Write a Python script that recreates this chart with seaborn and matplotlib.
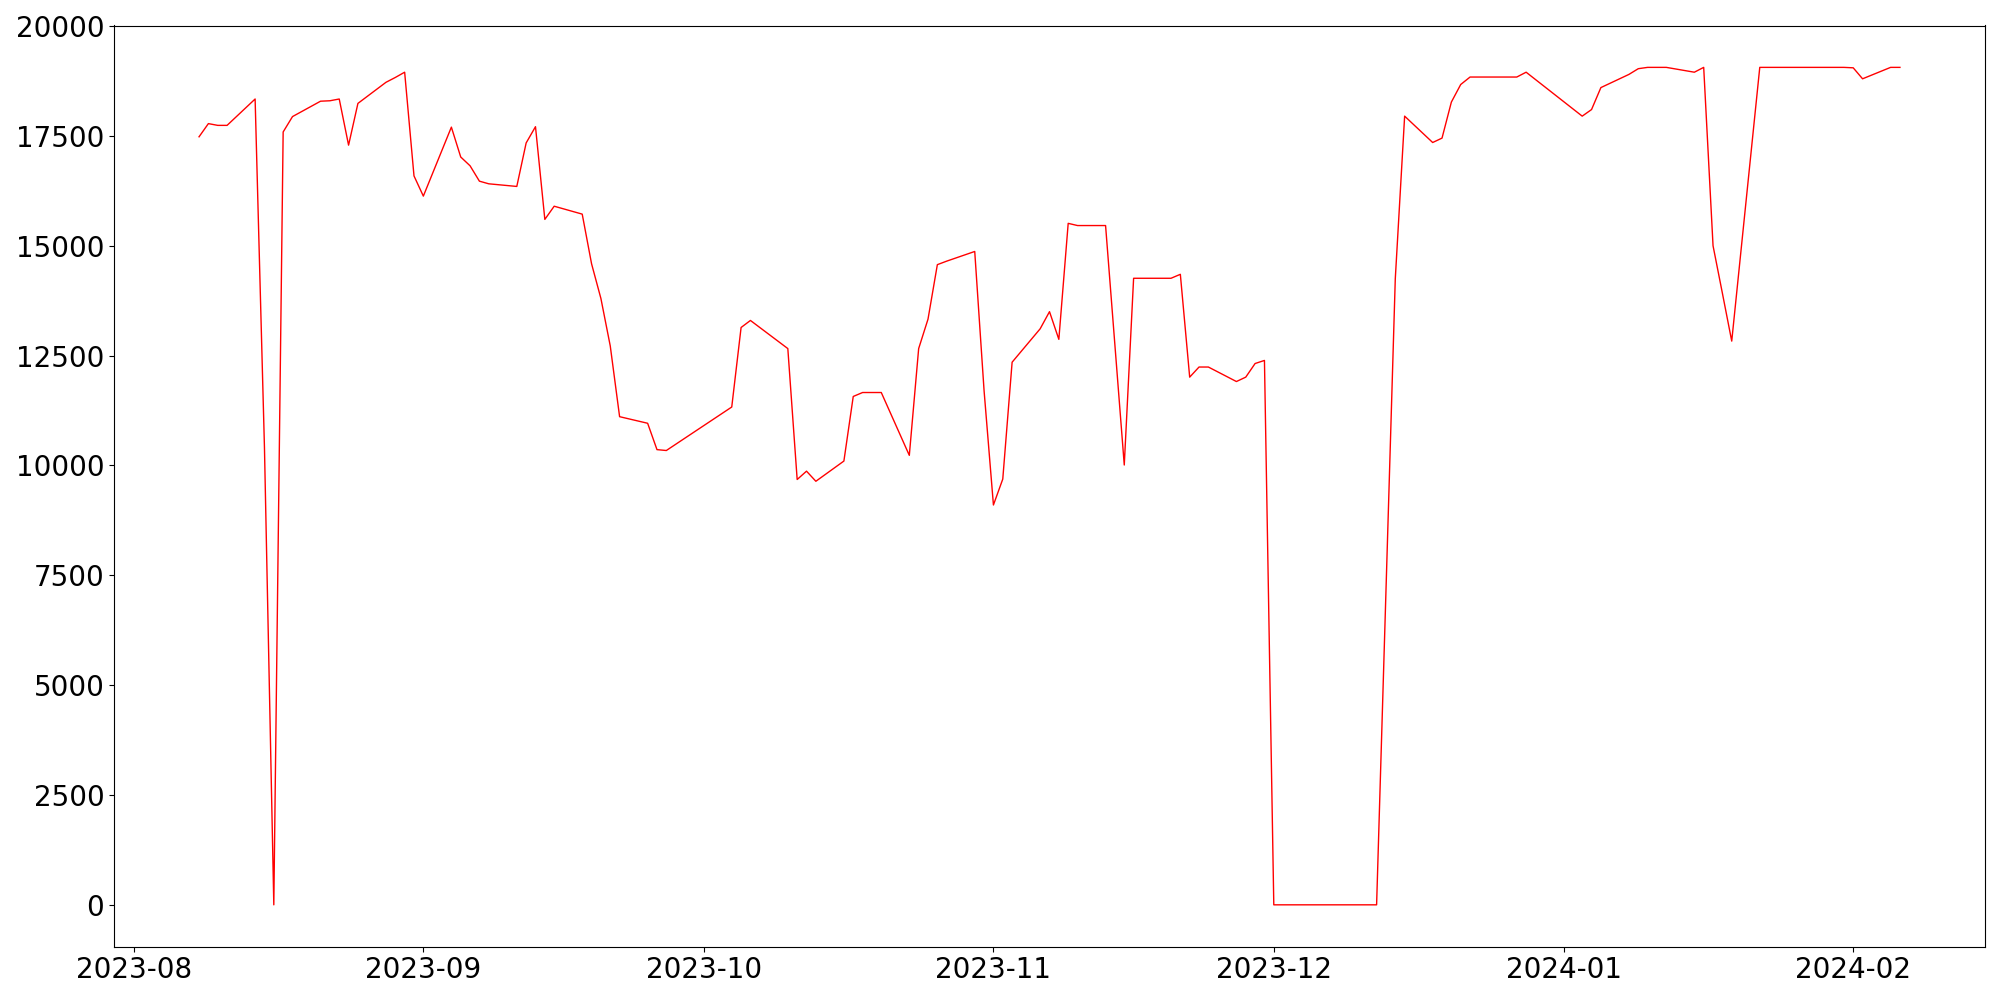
import pandas as pd
import matplotlib
matplotlib.use("Agg")
import matplotlib.pyplot as plt
import seaborn as sns

# Daily values (business days, gaps where data is missing)
dates = [
    "2023-08-08", "2023-08-09", "2023-08-10", "2023-08-11", "2023-08-14", "2023-08-15",
    "2023-08-16", "2023-08-17", "2023-08-18", "2023-08-21", "2023-08-22", "2023-08-23",
    "2023-08-24", "2023-08-25", "2023-08-28", "2023-08-29", "2023-08-30", "2023-08-31",
    "2023-09-01", "2023-09-04", "2023-09-05", "2023-09-06", "2023-09-07", "2023-09-08",
    "2023-09-11", "2023-09-12", "2023-09-13", "2023-09-14", "2023-09-15", "2023-09-18",
    "2023-09-19", "2023-09-20", "2023-09-21", "2023-09-22", "2023-09-25", "2023-09-26",
    "2023-09-27", "2023-10-04", "2023-10-05", "2023-10-06", "2023-10-10", "2023-10-11",
    "2023-10-12", "2023-10-13", "2023-10-16", "2023-10-17", "2023-10-18", "2023-10-19",
    "2023-10-20", "2023-10-23", "2023-10-24", "2023-10-25", "2023-10-26", "2023-10-27",
    "2023-10-30", "2023-10-31", "2023-11-01", "2023-11-02", "2023-11-03", "2023-11-06",
    "2023-11-07", "2023-11-08", "2023-11-09", "2023-11-10", "2023-11-13", "2023-11-15",
    "2023-11-16", "2023-11-17", "2023-11-20", "2023-11-21", "2023-11-22", "2023-11-23",
    "2023-11-24", "2023-11-27", "2023-11-28", "2023-11-29", "2023-11-30", "2023-12-01",
    "2023-12-04", "2023-12-05", "2023-12-06", "2023-12-07", "2023-12-08", "2023-12-11",
    "2023-12-12", "2023-12-14", "2023-12-15", "2023-12-18", "2023-12-19", "2023-12-20",
    "2023-12-21", "2023-12-22", "2023-12-26", "2023-12-27", "2023-12-28", "2024-01-03",
    "2024-01-04", "2024-01-05", "2024-01-08", "2024-01-09", "2024-01-10", "2024-01-11",
    "2024-01-12", "2024-01-15", "2024-01-16", "2024-01-17", "2024-01-18", "2024-01-19",
    "2024-01-22", "2024-01-23", "2024-01-24", "2024-01-25", "2024-01-26", "2024-01-29",
    "2024-01-30", "2024-01-31", "2024-02-01", "2024-02-02", "2024-02-05", "2024-02-06",
]
values = [
    17480, 17780, 17740, 17740, 18340, 10400,
    0, 17590, 17940, 18290, 18300, 18340,
    17290, 18240, 18720, 18830, 18950, 16590,
    16130, 17700, 17020, 16820, 16470, 16410,
    16350, 17340, 17710, 15600, 15900, 15720,
    14590, 13800, 12720, 11110, 10960, 10360,
    10340, 11330, 13140, 13300, 12660, 9680,
    9870, 9640, 10100, 11570, 11660, 11660,
    11660, 10230, 12660, 13330, 14570, 14650,
    14870, 11700, 9100, 9690, 12350, 13110,
    13500, 12870, 15510, 15460, 15460, 10010,
    14260, 14260, 14260, 14350, 12010, 12240,
    12240, 11910, 12010, 12320, 12390, 0,
    0, 0, 0, 0, 0, 0,
    0, 14250, 17950, 17350, 17450, 18270,
    18670, 18840, 18840, 18840, 18950, 17950,
    18100, 18600, 18900, 19030, 19060, 19060,
    19060, 18950, 19060, 15000, 13920, 12830,
    19060, 19060, 19060, 19060, 19060, 19060,
    19060, 19060, 19050, 18800, 19060, 19060,
]

df = pd.DataFrame({"date": pd.to_datetime(dates), "value": values})

fig, ax = plt.subplots(figsize=(20, 10), dpi=100)
sns.lineplot(data=df, x="date", y="value", color="red", linewidth=1, ax=ax)
ax.set_xlabel("")
ax.set_ylabel("")
ax.tick_params(labelsize=20)

plt.subplots_adjust(left=0.057, right=0.9925, bottom=0.0533, top=0.9745)
plt.savefig("out.png")
